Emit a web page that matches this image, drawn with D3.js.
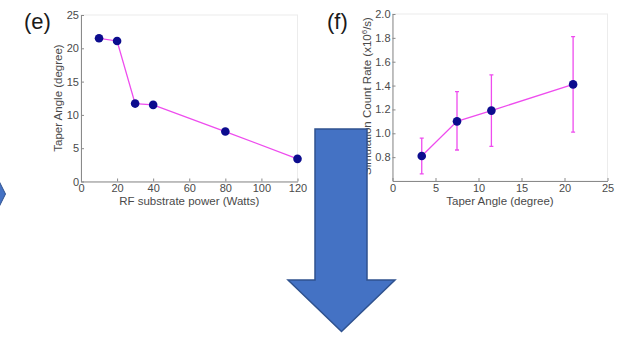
<!DOCTYPE html>
<html>
<head>
<meta charset="utf-8">
<script src="https://cdn.jsdelivr.net/npm/d3@7"></script>
<style>
  body { margin: 0; background: #fff; }
  svg { display: block; font-family: "Liberation Sans", Arial, sans-serif; }
  .axis path, .axis line { stroke: #8a8a8a; }
  .axis text { fill: #4a4a4a; font-size: 11px; }
</style>
</head>
<body>
<div id="chart"></div>
<script>
// panel (e): taper angle vs RF power
let powerWatts = [10, 20, 30, 40, 80, 120];
let taperAngle = [21.5, 21.1, 11.7, 11.5, 7.5, 3.4];
let powerTicks = [0, 20, 40, 60, 80, 100, 120];
let angleTicks = [0, 5, 10, 15, 20, 25];

// panel (f): count rate vs taper angle, with error bars
let fAngle = [3.4, 7.5, 11.5, 21];
let countRate = [0.81, 1.10, 1.19, 1.41];
let rateLow = [0.66, 0.86, 0.89, 1.01];
let rateHigh = [0.96, 1.35, 1.49, 1.81];
let fAngleTicks = [0, 5, 10, 15, 20, 25];
let rateTicks = [0.8, 1, 1.2, 1.4, 1.6, 1.8, 2];

let lineColor = "#ee4cee";
let dotColor = "#0c0c8e";

let svg = d3.select("#chart").append("svg")
            .attr("width", 641)
            .attr("height", 338);

function drawPanel(opts) {
  let g = svg.append("g");
  let x = d3.scaleLinear().domain(opts.xDomain).range(opts.xRange);
  let y = d3.scaleLinear().domain(opts.yDomain).range(opts.yRange);

  // faint plot frame
  g.append("rect")
   .attr("x", opts.xRange[0]).attr("y", opts.yRange[1])
   .attr("width", opts.xRange[1] - opts.xRange[0])
   .attr("height", opts.yRange[0] - opts.yRange[1])
   .attr("fill", "#fff").attr("stroke", "#ececec");

  g.append("g")
   .attr("class", "x axis")
   .attr("transform", "translate(0," + opts.yRange[0] + ")")
   .call(d3.axisBottom(x).tickValues(opts.xTicks).tickSize(-3).tickPadding(3).tickSizeOuter(0));

  g.append("g")
   .attr("class", "y axis")
   .attr("transform", "translate(" + opts.xRange[0] + ",0)")
   .call(d3.axisLeft(y).tickValues(opts.yTicks).tickSize(-3).tickPadding(2).tickSizeOuter(0));

  g.append("text")
   .attr("x", (opts.xRange[0] + opts.xRange[1]) / 2).attr("y", 205)
   .attr("text-anchor", "middle").attr("font-size", 11.5).attr("fill", "#4a4a4a")
   .text(opts.xLabel);

  let yl = g.append("text")
   .attr("transform", "translate(" + opts.yLabelX + "," + opts.yLabelY + ") rotate(-90)")
   .attr("text-anchor", "middle").attr("font-size", 11.5).attr("fill", "#4a4a4a");
  opts.yLabel(yl);

  g.append("text")
   .attr("x", opts.tagX).attr("y", 29)
   .attr("font-size", 22).attr("fill", "#1a1a1a")
   .text(opts.tag);

  let pts = opts.xs.map(function(d, i) { return { x: d, y: opts.ys[i] }; });

  if (opts.lo) {
    let caps = 2;
    opts.xs.forEach(function(d, i) {
      let cx = x(d);
      g.append("path")
       .attr("d", "M" + (cx - caps) + "," + y(opts.lo[i]) + "H" + (cx + caps) +
                  "M" + cx + "," + y(opts.lo[i]) + "V" + y(opts.hi[i]) +
                  "M" + (cx - caps) + "," + y(opts.hi[i]) + "H" + (cx + caps))
       .attr("stroke", lineColor).attr("stroke-width", 1.3).attr("fill", "none");
    });
  }

  let line = d3.line()
               .x(function(d) { return x(d.x); })
               .y(function(d) { return y(d.y); });

  g.append("path")
   .datum(pts)
   .attr("d", line)
   .attr("fill", "none").attr("stroke", lineColor).attr("stroke-width", 1.3);

  g.selectAll("circle.dot")
   .data(pts)
   .enter().append("circle")
   .attr("class", "dot")
   .attr("r", 4.3)
   .attr("cx", function(d) { return x(d.x); })
   .attr("cy", function(d) { return y(d.y); })
   .attr("fill", dotColor);
}

drawPanel({
  xDomain: [0, 120], xRange: [81, 297.5],
  yDomain: [0, 25], yRange: [181.5, 15],
  xTicks: powerTicks, yTicks: angleTicks,
  xs: powerWatts, ys: taperAngle,
  xLabel: "RF substrate power (Watts)",
  yLabelX: 62, yLabelY: 98,
  yLabel: function(t) { t.text("Taper Angle (degree)"); },
  tag: "(e)", tagX: 24
});

drawPanel({
  xDomain: [0, 25], xRange: [392.5, 607.5],
  yDomain: [0.6, 2], yRange: [181, 14],
  xTicks: fAngleTicks, yTicks: rateTicks,
  xs: fAngle, ys: countRate, lo: rateLow, hi: rateHigh,
  xLabel: "Taper Angle (degree)",
  yLabelX: 371, yLabelY: 96,
  yLabel: function(t) {
    t.append("tspan").text("Simulation Count Rate (x10");
    t.append("tspan").attr("dy", -4).attr("font-size", 8).text("6");
    t.append("tspan").attr("dy", 4).text("/s)");
  },
  tag: "(f)", tagX: 327
});

// big blue down arrow over the middle
let arrowPts = [[315, 129], [367, 129], [367, 280], [395, 280], [341.5, 331.5], [288, 280], [315, 280]];
svg.append("polygon")
   .attr("points", arrowPts.map(function(p) { return p.join(","); }).join(" "))
   .attr("fill", "#4472c4").attr("stroke", "#2f528f").attr("stroke-width", 1.5);

// tip of a right-pointing arrow cut off at the left edge
let sideArrow = [[-10, 181], [-1, 181], [5.5, 194], [-1, 207], [-10, 207]];
svg.append("polygon")
   .attr("points", sideArrow.map(function(p) { return p.join(","); }).join(" "))
   .attr("fill", "#4472c4").attr("stroke", "#2f528f").attr("stroke-width", 1);
</script>
</body>
</html>
